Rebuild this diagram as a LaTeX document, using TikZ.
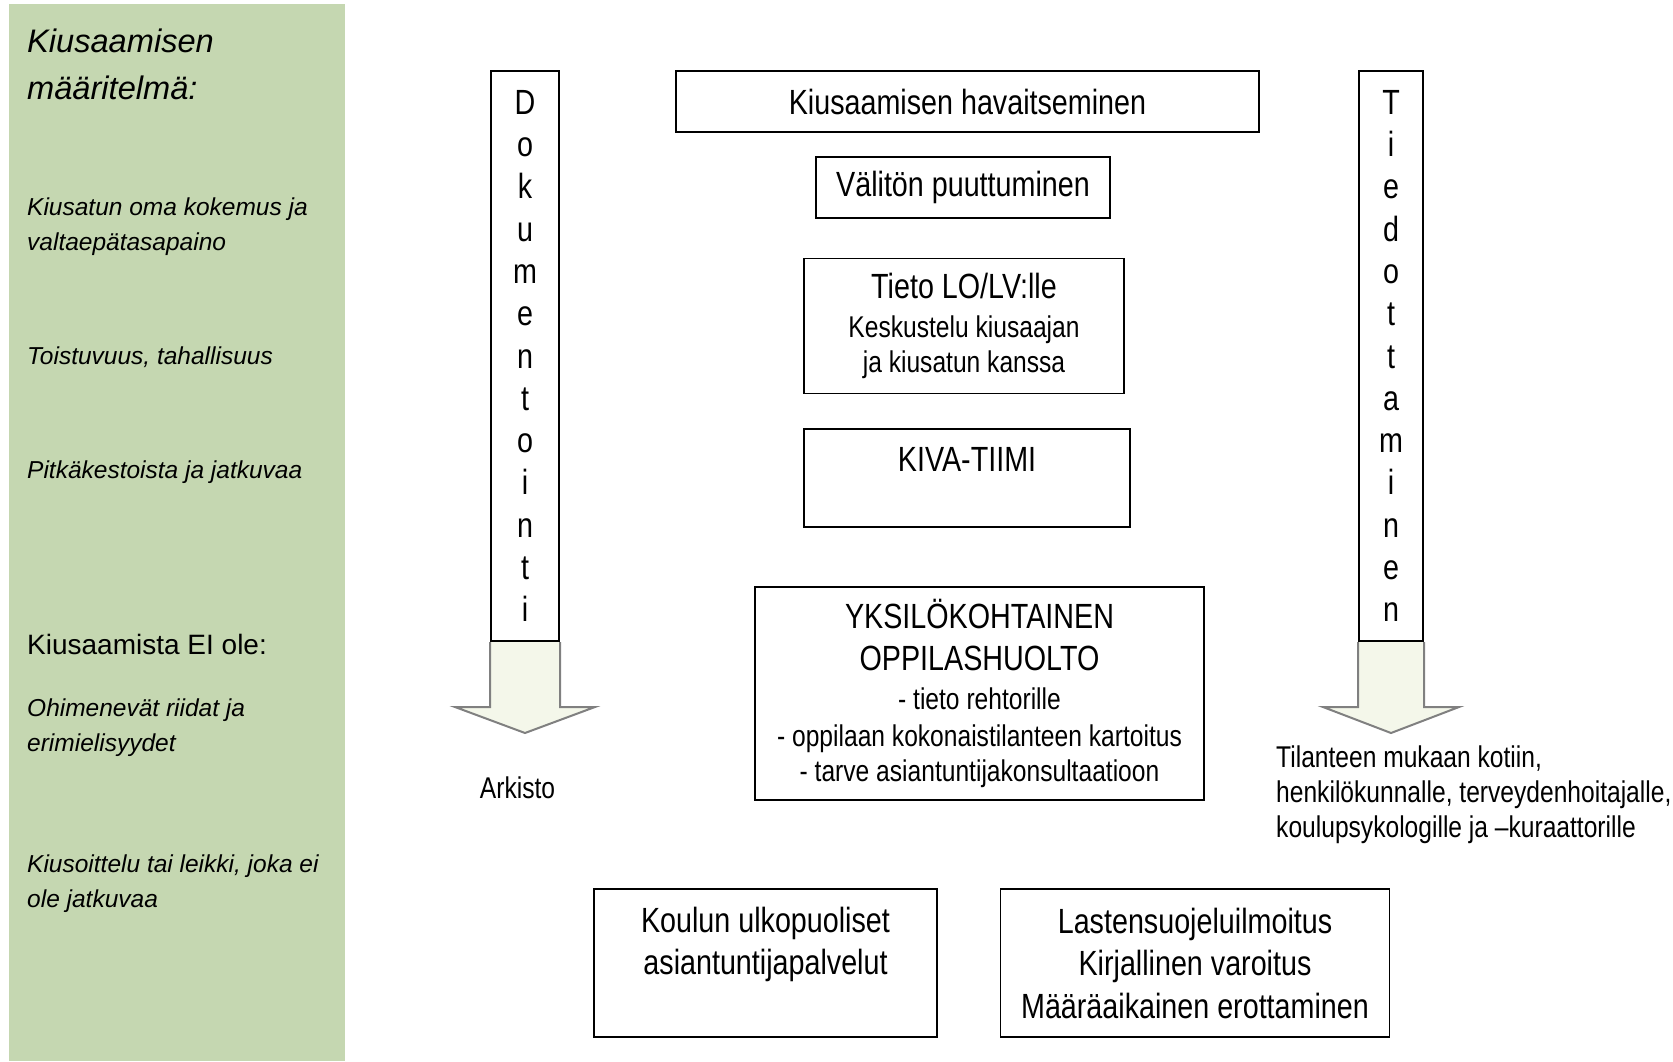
\documentclass[tikz,border=0pt]{standalone}
\usepackage{fontspec}
\setmainfont{Liberation Sans}
\newfontfamily\kapeafont[FakeStretch=0.82]{Liberation Sans}
\newcommand{\isofont}{\kapeafont\fontsize{35}{42.5}\selectfont}
\newcommand{\pienifont}{\kapeafont\fontsize{30}{35}\selectfont}
\newcommand{\paneelifont}{\fontsize{24.5}{35}\selectfont\itshape}
\usetikzlibrary{calc, positioning, backgrounds}
\definecolor{paneeli}{RGB}{197,215,177}
\definecolor{nuolivari}{RGB}{244,247,234}

\begin{document}
\begin{tikzpicture}[x=1pt, y=-1pt]
	\tikzset{%
		vaihe/.style={rectangle, draw=black, line width=1.5pt, align=center, font=\isofont, inner sep=0pt},
		pysty/.style={vaihe, line width=2pt, minimum height=570pt, font=\isofont\fontsize{35}{42.3}\selectfont},
		ylateksti/.style={anchor=north, inner sep=0pt, yshift=-18.5pt, align=center, font=\isofont},
		nuoli/.style={draw=black!50, line width=2pt, fill=nuolivari},
		sivuteksti/.style={anchor=north west, inner sep=0pt, align=left, font=\paneelifont}
	}
	\useasboundingbox (0,0) rectangle (1673,1061);
	% vasen paneeli
	\fill[paneeli] (8.5,4) rectangle (345,1061);
	\node[sivuteksti, font=\fontsize{32.6}{47}\selectfont\itshape] (maaritelma) at (27,28.5) {Kiusaamisen\\määritelmä:};
	\node[sivuteksti] (kokemus) at (27,197.5) {Kiusatun oma kokemus ja\\valtaepätasapaino};
	\node[sivuteksti] (toistuvuus) at (27,347) {Toistuvuus, tahallisuus};
	\node[sivuteksti] (kesto) at (27,461) {Pitkäkestoista ja jatkuvaa};
	\node[sivuteksti, font=\fontsize{28}{35}\selectfont] (eiole) at (27,634) {Kiusaamista EI ole:};
	\node[sivuteksti] (riidat) at (27,699) {Ohimenevät riidat ja\\erimielisyydet};
	\node[sivuteksti] (kiusoittelu) at (27,855) {Kiusoittelu tai leikki, joka ei\\ole jatkuvaa};

	% pystylaatikot ja nuolet
	\node[pysty, minimum width=68pt] (dok) at (525,356) {D\\o\\k\\u\\m\\e\\n\\t\\o\\i\\n\\t\\i};
	\node[pysty, minimum width=64pt] (tied) at (1391,356) {T\\i\\e\\d\\o\\t\\t\\a\\m\\i\\n\\e\\n};
	\begin{scope}[on background layer]
		\draw[nuoli] (dok.south west) -- ++(0,65) -- ++(-35,0) -- ($(dok.south)+(0,91)$) -- ($(dok.south east)+(35,65)$) -- ($(dok.south east)+(0,65)$) -- (dok.south east);
		\draw[nuoli] (tied.south west) -- ++(0,65) -- ++(-35,0) -- ($(tied.south)+(0,91)$) -- ($(tied.south east)+(35,65)$) -- ($(tied.south east)+(0,65)$) -- (tied.south east);
	\end{scope}
	\node[font=\pienifont] (arkisto) at (517.5,787.5) {Arkisto};
	\node[sivuteksti, font=\pienifont] (tilanne) at (1276,746) {Tilanteen mukaan kotiin,\\henkilökunnalle, terveydenhoitajalle,\\koulupsykologille ja –kuraattorille};

	% keskimmäiset vaiheet
	\node[vaihe, minimum width=583pt, minimum height=61pt] (havaitseminen) at (967.5,101.5) {Kiusaamisen havaitseminen};
	\node[vaihe, minimum width=294pt, minimum height=61pt] (puuttuminen) at (963,187.5) {Välitön puuttuminen};
	\node[vaihe, minimum width=320pt, minimum height=135pt] (tieto) at (964,326) {Tieto LO/LV:lle\\[-3.5pt]{\pienifont Keskustelu kiusaajan}\\[-7.5pt]{\pienifont ja kiusatun kanssa}};
	\node[vaihe, minimum width=326pt, minimum height=98pt, label={[ylateksti]north:KIVA-TIIMI}] (kiva) at (967,478) {};
	\node[vaihe, minimum width=449pt, minimum height=213pt] (oppilashuolto) at (979.5,693.5) {YKSILÖKOHTAINEN\\OPPILASHUOLTO\\[-4pt]{\pienifont - tieto rehtorille}\\[-5.5pt]{\pienifont - oppilaan kokonaistilanteen kartoitus}\\[-7pt]{\pienifont - tarve asiantuntijakonsultaatioon}};
	\node[vaihe, minimum width=343pt, minimum height=148pt, label={[ylateksti]north:Koulun ulkopuoliset\\asiantuntijapalvelut}] (ulkopuoliset) at (765.5,963) {};
	\node[vaihe, minimum width=389pt, minimum height=148pt, right=62pt of ulkopuoliset] (lastensuojelu) {Lastensuojeluilmoitus\\Kirjallinen varoitus\\Määräaikainen erottaminen};
\end{tikzpicture}
\end{document}
